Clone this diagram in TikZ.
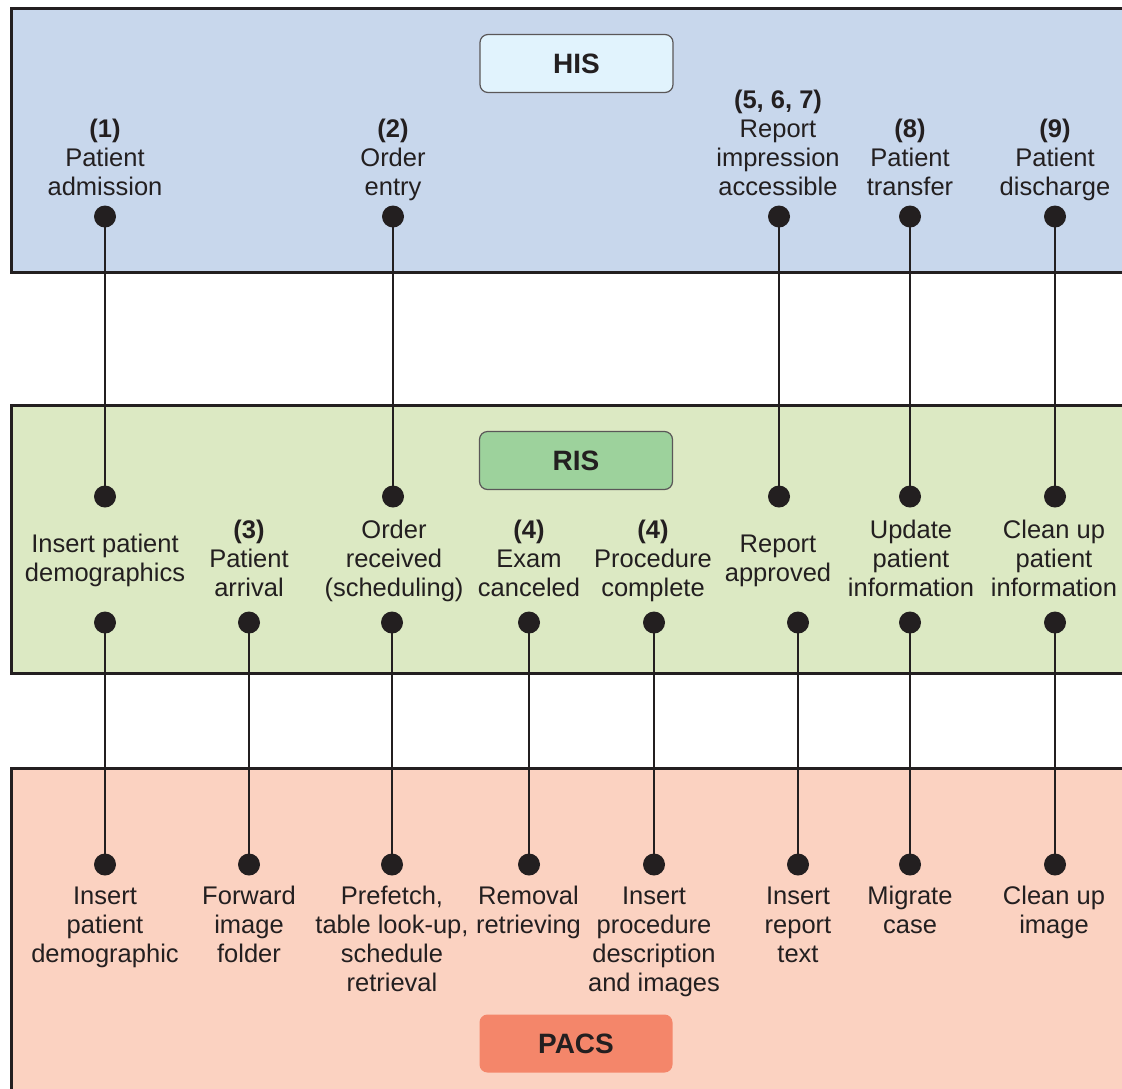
\documentclass[tikz,border=0pt]{standalone}
\usepackage{fontspec}
\setmainfont{Liberation Sans}
\definecolor{ink}{HTML}{231F20}
\definecolor{hisbg}{HTML}{C8D7EC}
\definecolor{risbg}{HTML}{DCE9C3}
\definecolor{pacsbg}{HTML}{FBD2C1}
\definecolor{hislab}{HTML}{E1F3FD}
\definecolor{rislab}{HTML}{9DD29C}
\definecolor{pacslab}{HTML}{F4866A}
\begin{document}
\begin{tikzpicture}[x=1pt,y=-1pt,
  panel/.style={draw=ink, line width=3pt},
  sysbox/.style={rounded corners=8pt, minimum width=193pt, minimum height=58pt, inner sep=0pt,
                 font=\fontsize{28}{32}\selectfont\bfseries, text=ink},
  lbl/.style={align=center, inner sep=0pt, text=ink, font=\fontsize{25.5}{29}\selectfont},
  dot/.style={circle, fill=ink, inner sep=0pt, minimum size=22pt},
  uplink/.style={draw=ink, line width=2.5pt},
  lowlink/.style={draw=ink, line width=1.8pt}
]
\useasboundingbox (0,0) rectangle (1122,1088);
\begin{scope}
\clip (0,0) rectangle (1122,1088);
\fill[white] (0,0) rectangle (1122,1088);
\draw[panel, fill=hisbg] (11.5,8.5) rectangle (1140,272.5);
\draw[panel, fill=risbg] (11.5,405.5) rectangle (1140,673);
\draw[panel, fill=pacsbg] (11.5,768.5) rectangle (1140,1110);
\end{scope}

% system labels
\node[sysbox, fill=hislab, draw=ink!75, line width=1.2pt] (his) at (576.5,63.5) {HIS};
\node[sysbox, fill=rislab, draw=ink!75, line width=1.2pt] (ris) at (576,460.5) {RIS};
\node[sysbox, fill=pacslab] (pacs) at (576,1043.5) {PACS};

% dots
\foreach \n/\x in {1/105,2/393,3/779,4/910,5/1055}{
  \node[dot] (h\n) at (\x,216.5) {};
  \node[dot] (rt\n) at (\x,496.5) {};
}
\foreach \n/\x in {1/105,2/249,3/392,4/529,5/654,6/798,7/910,8/1055}{
  \node[dot] (rb\n) at (\x,622.5) {};
  \node[dot] (p\n) at (\x,864.5) {};
}

% connectors
\foreach \n in {1,...,5}{
  \draw[uplink] (h\n.center) -- (rt\n.center);
}
\foreach \n in {1,...,8}{
  \draw[lowlink] (rb\n.center) -- (p\n.center);
}

% HIS labels
\node[lbl, anchor=south] (hl1) at (105,204.7) {\strut\textbf{(1)}\\Patient\\admission\strut};
\node[lbl, anchor=south] (hl2) at (393,204.7) {\strut\textbf{(2)}\\Order\\entry\strut};
\node[lbl, anchor=south] (hl3) at (778,204.7) {\strut\textbf{(5, 6, 7)}\\Report\\impression\\accessible\strut};
\node[lbl, anchor=south] (hl4) at (910,204.7) {\strut\textbf{(8)}\\Patient\\transfer\strut};
\node[lbl, anchor=south] (hl5) at (1055,204.7) {\strut\textbf{(9)}\\Patient\\discharge\strut};

% RIS labels
\node[lbl] (rl1) at (105,561.5) {\strut Insert patient\\demographics\strut};
\node[lbl] (rl2) at (249,561.5) {\strut\textbf{(3)}\\Patient\\arrival\strut};
\node[lbl] (rl3) at (394,561.5) {\strut Order\\received\\(scheduling)\strut};
\node[lbl] (rl4) at (529,561.5) {\strut\textbf{(4)}\\Exam\\canceled\strut};
\node[lbl] (rl5) at (653,561.5) {\strut\textbf{(4)}\\Procedure\\complete\strut};
\node[lbl] (rl6) at (778,561.5) {\strut Report\\approved\strut};
\node[lbl] (rl7) at (911,561.5) {\strut Update\\patient\\information\strut};
\node[lbl] (rl8) at (1054,561.5) {\strut Clean up\\patient\\information\strut};

% PACS labels
\node[lbl, anchor=north] (pl1) at (105,883.7) {\strut Insert\\patient\\demographic\strut};
\node[lbl, anchor=north] (pl2) at (249,883.7) {\strut Forward\\image\\folder\strut};
\node[lbl, anchor=north] (pl3) at (392,883.7) {\strut Prefetch,\\table look-up,\\schedule\\retrieval\strut};
\node[lbl, anchor=north] (pl4) at (528.5,883.7) {\strut Removal\\retrieving\strut};
\node[lbl, anchor=north] (pl5) at (654,883.7) {\strut Insert\\procedure\\description\\and images\strut};
\node[lbl, anchor=north] (pl6) at (798,883.7) {\strut Insert\\report\\text\strut};
\node[lbl, anchor=north] (pl7) at (910,883.7) {\strut Migrate\\case\strut};
\node[lbl, anchor=north] (pl8) at (1054,883.7) {\strut Clean up\\image\strut};
\end{tikzpicture}
\end{document}
